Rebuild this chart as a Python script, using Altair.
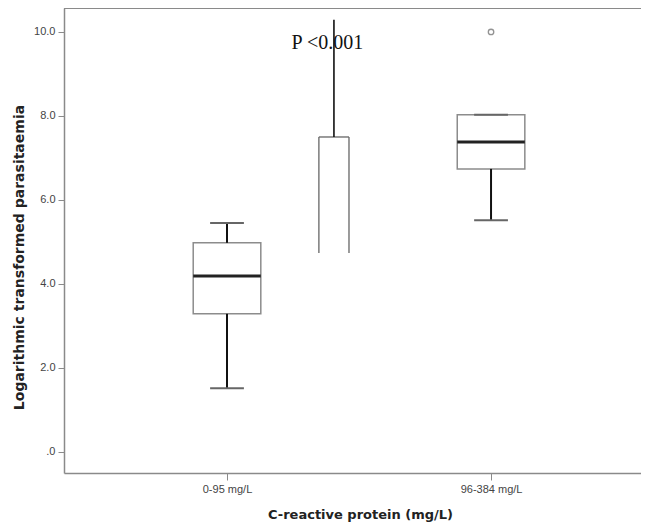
import altair as alt
import pandas as pd

# ---- data ----
categories = ["0-95 mg/L", "96-384 mg/L"]
positions = [1, 2]
lower_whisker = [1.52, 5.52]
q1 = [3.29, 6.74]
median = [4.19, 7.38]
q3 = [4.98, 8.03]
upper_whisker = [5.45, 8.03]

outlier_pos = [2]
outlier_val = [10.0]

# stray overlay box (partial box with whisker) near the annotation
overlay_pos = [1.405]
overlay_bottom = [4.74]
overlay_top = [7.5]
overlay_whisker = [10.29]

annot_text = ["P <0.001"]
annot_pos = [1.38]
annot_val = [9.6]

# ---- layout / style ----
BOX_HALF = 0.128
CAP_HALF = 0.064
OV_HALF = 0.057
W, H = 577, 465
X_DOMAIN = [0.3826, 2.568]
Y_DOMAIN = [-0.5, 10.571]
FRAME = "#8a8a8a"
BOXC = "#8c8c8c"

box = pd.DataFrame({
    "cat": categories, "pos": positions, "lw": lower_whisker, "q1": q1,
    "med": median, "q3": q3, "uw": upper_whisker,
})
box["xl"] = box["pos"] - BOX_HALF
box["xr"] = box["pos"] + BOX_HALF
box["cl"] = box["pos"] - CAP_HALF
box["cr"] = box["pos"] + CAP_HALF

outl = pd.DataFrame({"pos": outlier_pos, "val": outlier_val})

ov = pd.DataFrame({"pos": overlay_pos, "bot": overlay_bottom, "top": overlay_top, "wh": overlay_whisker})
ov["xl"] = ov["pos"] - OV_HALF
ov["xr"] = ov["pos"] + OV_HALF
ov_sides = pd.DataFrame({
    "side": list(ov["xl"]) + list(ov["xr"]),
    "bot": list(ov["bot"]) * 2,
    "top": list(ov["top"]) * 2,
})

ann = pd.DataFrame({"t": annot_text, "pos": annot_pos, "val": annot_val})

label_expr = " : ".join(
    [f"datum.value == {p} ? '{c}'" for p, c in zip(positions, categories)]
) + " : ''"

xs = alt.Scale(domain=X_DOMAIN, nice=False, zero=False)
ys = alt.Scale(domain=Y_DOMAIN, nice=False, zero=False)

x_axis = alt.Axis(
    values=positions, labelExpr=label_expr, title="C-reactive protein (mg/L)",
    grid=False, domainColor=FRAME, domainWidth=1.5, tickColor=FRAME, tickSize=7,
    labelFont="Liberation Sans", labelFontSize=11, labelColor="#444", labelPadding=3,
    titleFont="DejaVu Sans", titleFontSize=13, titleFontWeight="bold", titleColor="#222",
    titleX=296, titleY=45, titleAnchor="start", titleAlign="center", titleBaseline="alphabetic",
)
y_axis = alt.Axis(
    values=[0, 2, 4, 6, 8, 10],
    labelExpr="datum.value == 0 ? '.0' : format(datum.value, '.1f')",
    title="Logarithmic transformed parasitaemia",
    grid=False, domainColor=FRAME, domainWidth=1.5, tickColor=FRAME, tickSize=6,
    labelFont="Liberation Sans", labelFontSize=11, labelColor="#444", labelPadding=3,
    titleFont="DejaVu Sans", titleFontSize=14, titleFontWeight="bold", titleColor="#222",
    titleX=-45, titleY=249, titleAngle=270, titleAlign="center", titleBaseline="middle",
)

base = alt.Chart(box)

rect = base.mark_bar(fill="white", stroke=BOXC, strokeWidth=1.5).encode(
    x=alt.X("xl:Q", scale=xs, axis=x_axis), x2="xr:Q",
    y=alt.Y("q1:Q", scale=ys, axis=y_axis), y2="q3:Q",
)
med = base.mark_rule(color="#222", strokeWidth=3).encode(
    x=alt.X("xl:Q", scale=xs), x2="xr:Q", y=alt.Y("med:Q", scale=ys))
wl = base.mark_rule(color="#111", strokeWidth=2).encode(
    x=alt.X("pos:Q", scale=xs), y=alt.Y("lw:Q", scale=ys), y2="q1:Q")
wu = base.mark_rule(color="#111", strokeWidth=2).encode(
    x=alt.X("pos:Q", scale=xs), y=alt.Y("q3:Q", scale=ys), y2="uw:Q")
cap_l = base.mark_rule(color="#666", strokeWidth=2).encode(
    x=alt.X("cl:Q", scale=xs), x2="cr:Q", y=alt.Y("lw:Q", scale=ys))
cap_u = base.mark_rule(color="#666", strokeWidth=2).encode(
    x=alt.X("cl:Q", scale=xs), x2="cr:Q", y=alt.Y("uw:Q", scale=ys))

pts = alt.Chart(outl).mark_point(shape="circle", size=30, filled=False, color="#666", strokeWidth=1.3).encode(
    x=alt.X("pos:Q", scale=xs), y=alt.Y("val:Q", scale=ys))

ov_s = alt.Chart(ov_sides).mark_rule(color="#666", strokeWidth=1.3).encode(
    x=alt.X("side:Q", scale=xs), y=alt.Y("bot:Q", scale=ys), y2="top:Q")
ov_t = alt.Chart(ov).mark_rule(color="#666", strokeWidth=1.3).encode(
    x=alt.X("xl:Q", scale=xs), x2="xr:Q", y=alt.Y("top:Q", scale=ys))
ov_w = alt.Chart(ov).mark_rule(color="#111", strokeWidth=1.6).encode(
    x=alt.X("pos:Q", scale=xs), y=alt.Y("top:Q", scale=ys), y2="wh:Q")

txt = alt.Chart(ann).mark_text(font="Liberation Serif", fontSize=20, color="#111",
                               align="center", baseline="alphabetic").encode(
    x=alt.X("pos:Q", scale=xs), y=alt.Y("val:Q", scale=ys), text="t:N")

top_frame = alt.Chart(box.head(1)).mark_rule(color=FRAME, strokeWidth=2).encode(
    x=alt.value(0), x2=alt.value(W), y=alt.value(0), y2=alt.value(0))

chart = alt.layer(
    top_frame, rect, wl, wu, cap_l, cap_u, med, pts, ov_s, ov_t, ov_w, txt
).properties(
    width=W, height=H,
    background="white",
    autosize=alt.AutoSizeParams(type="none"),
    padding={"left": 56, "top": 0, "right": 0, "bottom": 53},
).configure_view(stroke="white", strokeWidth=2)

chart.save("out.html", embed_options={"renderer": "svg", "actions": False})
